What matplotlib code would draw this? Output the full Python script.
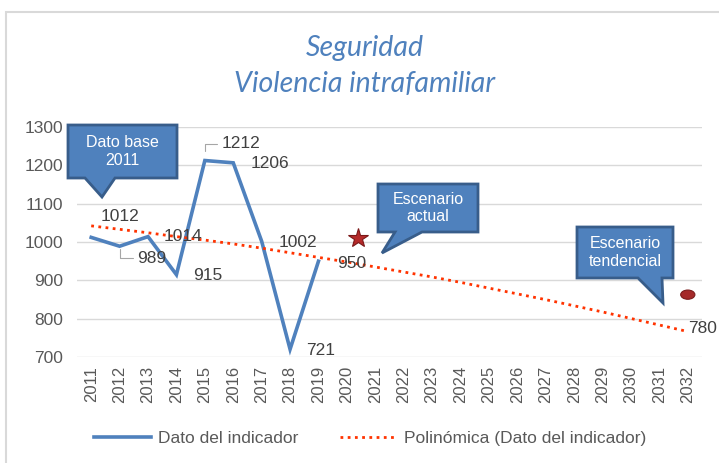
import matplotlib.pyplot as plt
from matplotlib.patches import Polygon, Ellipse, Rectangle

plt.rcParams['font.family'] = ['Liberation Sans', 'DejaVu Sans']

years = [str(y) for y in range(2011, 2033)]
dato = [1012, 989, 1014, 915, 1212, 1206, 1002, 721, 950]
# polynomial trend, one value per year
tendencia = [1042, 1033, 1024, 1014, 1005, 995, 984, 972, 960, 948, 935,
             922, 909, 895, 880, 865, 850, 834, 818, 801, 784, 767]
actual_pos, actual_val = 9.4, 1010
tendencial_pos, tendencial_val = 21, 863
tendencial_label = "780"

W, H = 719, 463
BLUE = "#4F81BD"
GRAY = "#595959"
LABEL = "#404040"

fig = plt.figure(figsize=(W / 100, H / 100), dpi=100)
ax = fig.add_axes([77 / W, 1 - 357.3 / H, 625 / W, 230.6 / H])

# outer chart border
fig.patches.append(Rectangle((5.5 / W, -0.1), 2, 1.1 - 12 / H, transform=fig.transFigure,
                             fill=False, edgecolor="#D9D9D9", linewidth=1.5))

x = list(range(len(years)))
ax.plot(x[:len(dato)], dato, color=BLUE, linewidth=2.6, solid_joinstyle="miter",
        label="Dato del indicador", zorder=3)
ax.plot(x, tendencia, color="#FF3300", linestyle=(0, (1, 1.6)), linewidth=2.0,
        label="Polinómica (Dato del indicador)", zorder=4)

ax.set_xlim(-0.5, len(years) - 0.5)
ax.set_ylim(700, 1300)
ax.set_yticks(range(700, 1301, 100))
ax.set_xticks(x)
ax.set_xticklabels(years, rotation=90)
ax.tick_params(length=0, colors=GRAY, labelsize=12)
ax.tick_params(axis="y", pad=10, labelsize=12.5)
ax.tick_params(axis="x", pad=6)
for s in ax.spines.values():
    s.set_visible(False)
ax.yaxis.grid(True, color="#D9D9D9", linewidth=1)
ax.set_axisbelow(True)

# data labels (offsets in pixels)
offsets = [(29, 21), (32, -12), (35, 0), (31, -1), (36, 17), (37, -1), (36, -1), (31, -1), (33, -2)]
for i, (v, (dx, dy)) in enumerate(zip(dato, offsets)):
    kw = {}
    if i == 1:
        kw = dict(arrowprops=dict(arrowstyle="-", color="#A6A6A6", lw=0.8, shrinkA=1, shrinkB=2,
                                  relpos=(0, 0.5),
                                  connectionstyle="angle,angleA=0,angleB=90,rad=0"))
    if i == 4:
        kw = dict(arrowprops=dict(arrowstyle="-", color="#A6A6A6", lw=0.8, shrinkA=1, shrinkB=7,
                                  relpos=(0, 0.5),
                                  connectionstyle="angle,angleA=0,angleB=90,rad=0"))
    ax.annotate(str(v), (i, v), xytext=(dx, dy), textcoords="offset pixels",
                ha="center", va="center", fontsize=12.5, color=LABEL, zorder=5, **kw)

ax.annotate(tendencial_label, (x[-1], tendencia[-1]), xytext=(15, 3), textcoords="offset pixels",
            ha="center", va="center", fontsize=12.5, color=LABEL, annotation_clip=False)

# scenario markers
ax.plot([actual_pos], [actual_val], marker="*", markersize=15, color="#B52A2A",
        markeredgecolor="#7A1818", markeredgewidth=0.8, zorder=6)
ax.add_patch(Ellipse((tendencial_pos, tendencial_val), 0.5, 24, facecolor="#A52A2A",
                     edgecolor="#7B1C1C", linewidth=0.8, zorder=6, clip_on=False))

# title
fig.text(365 / W, 1 - 48 / H, "Seguridad", ha="center", va="center", fontsize=20.5,
         style="italic", color=BLUE, family="Lato")
fig.text(365 / W, 1 - 84 / H, "Violencia intrafamiliar", ha="center", va="center",
         fontsize=20.5, style="italic", color=BLUE, family="Lato")


def callout(x0, y0, x1, y1, b0, b1, tx, ty, text):
    pts = [(x0, y0), (x1, y0), (x1, y1), (b1, y1), (tx, ty), (b0, y1), (x0, y1)]
    pts = [(px / W, 1 - py / H) for px, py in pts]
    fig.patches.append(Polygon(pts, closed=True, transform=fig.transFigure,
                               facecolor=BLUE, edgecolor="#385D8A", linewidth=2,
                               joinstyle="miter", zorder=10))
    fig.text((x0 + x1) / 2 / W, 1 - (y0 + y1) / 2 / H, text, ha="center", va="center",
             color="white", fontsize=11.5, linespacing=1.2, zorder=11)


callout(68, 125, 177, 178, 85, 115, 102, 197, "Dato base\n2011")
callout(378, 184, 478, 232, 395, 422, 382, 253, "Escenario\nactual")
callout(577, 227, 673, 278, 638, 662, 663, 303, "Escenario\ntendencial")

leg = ax.legend(loc="center", bbox_to_anchor=(370 / W, 1 - 438 / H),
                bbox_transform=fig.transFigure, ncol=2, frameon=False, fontsize=12.5,
                handlelength=3.3, handletextpad=0.4, columnspacing=2.4)
for t in leg.get_texts():
    t.set_color(GRAY)

fig.savefig("out.png", dpi=100)
